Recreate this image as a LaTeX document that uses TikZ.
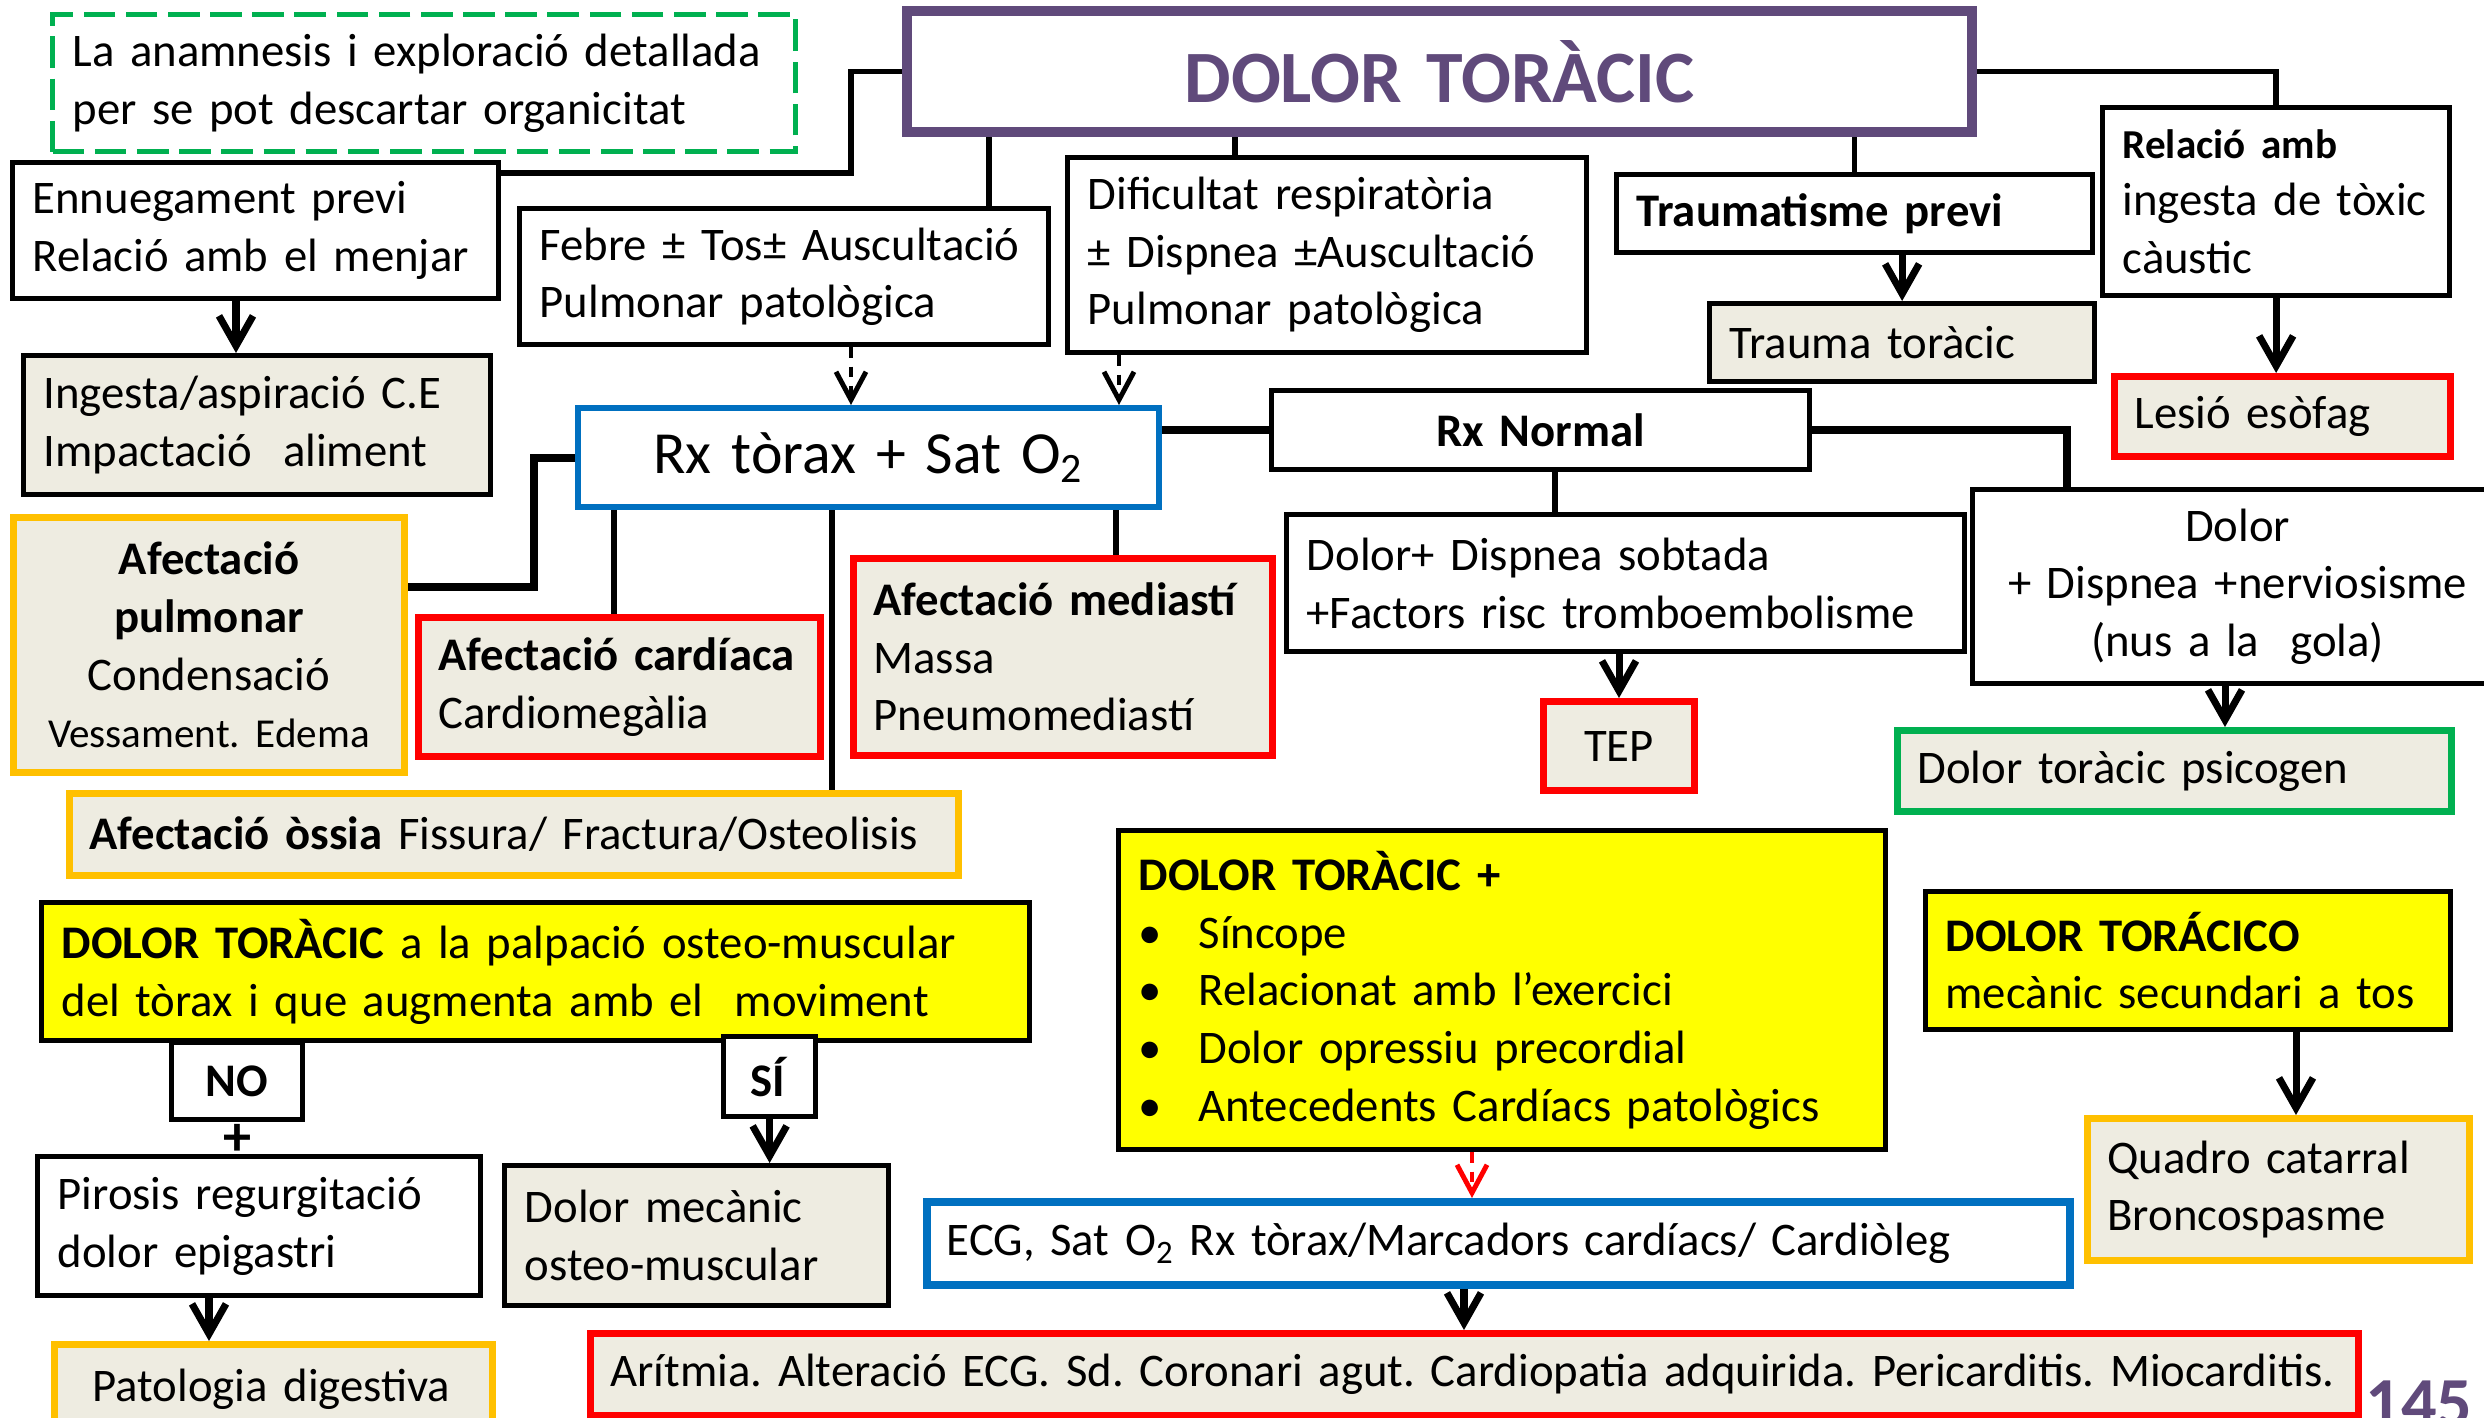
\documentclass[tikz,border=0pt]{standalone}
\usepackage{fontspec}
\setmainfont{Carlito}
\usetikzlibrary{arrows.meta}
\frenchspacing
\definecolor{beige}{HTML}{EEECE1}
\definecolor{ylw}{HTML}{FFFF00}
\definecolor{orng}{HTML}{FFC000}
\definecolor{rd}{HTML}{FF0000}
\definecolor{grn}{HTML}{00B050}
\definecolor{blu}{HTML}{0070C0}
\definecolor{purp}{HTML}{604A7B}
\newcommand\txtsz{\fontsize{13.3}{16.4}\selectfont}
\newcommand\smallsz{\fontsize{11.7}{16.4}\selectfont}
% box given by its corners (x1,y1)-(x2,y2), y measured downwards
\newcommand\mybox[7]{%
  \pgfmathsetmacro\myboxw{#5-#3}%
  \pgfmathsetmacro\myboxh{#6-#4}%
  \pgfmathsetmacro\myboxt{#5-#3-0.4}%
  \node[#1, anchor=north west, minimum width=\myboxw cm, minimum height=\myboxh cm,
        text width=\myboxt cm] (#2) at (#3,-#4) {#7};}
\newcommand\bul{\makebox[0.6cm][l]{•}}
\tikzset{
  base/.style={draw, line width=1.5pt, fill=white, inner xsep=0.2cm, inner ysep=0pt,
               align=left, font=\txtsz},
  plain/.style={base},
  tan/.style={base, fill=beige},
  redbox/.style={base, fill=beige, draw=rd, line width=2pt},
  orangebox/.style={base, fill=beige, draw=orng, line width=2pt},
  greenbox/.style={base, fill=beige, draw=grn, line width=2pt},
  bluebox/.style={base, draw=blu, line width=1.8pt},
  yellowbox/.style={base, fill=ylw},
  mid/.style={align=center},
  link/.style={line width=1.6pt},
  heavy/.style={line width=2.3pt},
  arr/.style={line width=2pt, -{Straight Barb[length=3mm,width=3.4mm]}},
  darr/.style={line width=1.4pt, dash pattern=on 3pt off 2.5pt,
               -{Straight Barb[length=2.8mm,width=3mm]}},
}
\begin{document}
\begin{tikzpicture}
\clip (0,0) rectangle (24.84,-14.18);
\fill[white] (0,0) rectangle (24.84,-14.18);

% ---- top row ----
\mybox{base, draw=grn, dash pattern=on 9pt off 3pt}{anam}{0.50}{0.12}{7.93}{1.49}{La anamnesis i exploració detallada\\per se pot descartar organicitat}
\mybox{plain}{enn}{0.10}{1.60}{4.96}{2.96}{Ennuegament previ\\Relació amb el menjar}
\mybox{tan}{ingesta}{0.21}{3.53}{4.88}{4.92}{Ingesta/aspiració C.E\\Impactació~ aliment}
\mybox{base, mid, draw=purp, line width=2.9pt, font=\fontsize{21}{24}\selectfont\bfseries\color{purp}}{title}{9.02}{0.06}{19.67}{1.27}{DOLOR TORÀCIC}
\mybox{plain}{febre}{5.17}{2.06}{10.46}{3.42}{Febre ± Tos± Auscultació\\Pulmonar patològica}
\mybox{plain}{dific}{10.65}{1.55}{15.84}{3.50}{Dificultat respiratòria\\± Dispnea ±Auscultació\\Pulmonar patològica}
\mybox{plain}{traum}{16.14}{1.72}{20.90}{2.50}{\textbf{Traumatisme previ}}
\mybox{tan}{trauma}{17.07}{3.01}{20.92}{3.79}{Trauma toràcic}
\mybox{plain}{relacio}{21.00}{1.05}{24.47}{2.93}{{\smallsz\bfseries Relació amb}\\ingesta de tòxic\\càustic}
\mybox{redbox}{lesio}{21.11}{3.73}{24.47}{4.53}{Lesió esòfag}

% ---- radiography row ----
\mybox{bluebox, mid, font=\fontsize{17}{20}\selectfont}{rx}{5.75}{4.05}{11.56}{5.04}{Rx tòrax + Sat O\textsubscript{2}}
\mybox{plain, mid}{rxnormal}{12.69}{3.88}{18.07}{4.67}{\textbf{Rx Normal}}
\mybox{orangebox, mid}{pulmonar}{0.10}{5.14}{4.01}{7.69}{\textbf{Afectació}\\\textbf{pulmonar}\\Condensació\\{\smallsz Vessament. Edema}}
\mybox{redbox}{cardiaca}{4.15}{6.14}{8.17}{7.53}{\textbf{Afectació~cardíaca}\\Cardiomegàlia}
\mybox{redbox}{mediasti}{8.50}{5.55}{12.69}{7.52}{\textbf{Afectació~mediastí}\\Massa\\Pneumomediastí}
\mybox{orangebox}{ossia}{0.66}{7.90}{9.55}{8.72}{\textbf{Afectació òssia} Fissura/ Fractura/Osteolisis}
\mybox{plain}{sobtada}{12.84}{5.12}{19.62}{6.49}{Dolor+ Dispnea sobtada\\+Factors risc tromboembolisme}
\mybox{plain, mid}{nervios}{19.70}{4.87}{25.00}{6.81}{Dolor\\+ Dispnea +nerviosisme\\(nus a la~ gola)}
\mybox{redbox, mid}{tep}{15.40}{6.98}{16.91}{7.87}{TEP}
\mybox{greenbox}{psicogen}{18.94}{7.27}{24.48}{8.08}{Dolor toràcic psicogen}

% ---- lower part ----
\mybox{yellowbox}{palpacio}{0.39}{9.00}{10.27}{10.38}{\textbf{DOLOR TORÀCIC} a la palpació osteo-muscular\\del tòrax i que augmenta amb el~ moviment}
\mybox{plain, mid}{no}{1.69}{10.40}{3.00}{11.17}{\textbf{NO}}
\mybox{plain, mid}{si}{7.21}{10.34}{8.13}{11.14}{\textbf{SÍ}}
\node[font=\fontsize{16}{16}\selectfont\bfseries, inner sep=0pt] (plus) at (2.38,-11.40) {+};
\mybox{plain}{pirosis}{0.35}{11.54}{4.78}{12.93}{Pirosis regurgitació\\dolor epigastri}
\mybox{orangebox}{patologia}{0.51}{13.41}{4.89}{14.30}{\hspace{0.18cm}Patologia digestiva}
\mybox{tan}{mecanic}{5.02}{11.63}{8.86}{13.03}{Dolor mecànic\\osteo-muscular}
\mybox{yellowbox}{dolorplus}{11.16}{8.28}{18.83}{11.47}{\textbf{DOLOR TORÀCIC +}\\
  \bul Síncope\\
  \bul Relacionat amb l’exercici\\
  \bul Dolor opressiu precordial\\
  \bul Antecedents Cardíacs patològics}
\mybox{yellowbox}{toracico}{19.23}{8.89}{24.48}{10.27}{\textbf{DOLOR TORÁCICO}\\mecànic secundari a tos}
\mybox{orangebox}{quadro}{20.84}{11.15}{24.66}{12.57}{Quadro catarral\\Broncospasme}
\mybox{bluebox, line width=2.2pt}{ecg}{9.23}{11.98}{20.66}{12.81}{ECG, Sat O\textsubscript{2} Rx tòrax/Marcadors cardíacs/ Cardiòleg}
\mybox{redbox}{aritmia}{5.87}{13.30}{23.55}{14.12}{Arítmia. Alteració ECG. Sd. Coronari agut. Cardiopatia adquirida. Pericarditis. Miocarditis.}
\node[anchor=base west, inner sep=0pt, font=\fontsize{20}{20}\selectfont\bfseries\color{purp}] (page) at (23.65,-14.26) {145};

% ---- connectors ----
\coordinate (k1) at (8.51,-1.73);
\coordinate (k2) at (5.34,-5.87);
\coordinate (k3) at (20.67,0);
\draw[link] (title.west) -| (k1) -- (k1 -| enn.east);
\draw[link] (title.south -| 9.89,0) -- (febre.north -| 9.89,0);
\draw[link] (title.south -| 12.35,0) -- (dific.north -| 12.35,0);
\draw[link] (title.south -| traum.north) -- (traum.north);
\draw[link] (title.east) -| (relacio.north);
\draw[arr] (enn.south -| 2.36,0) -- (ingesta.north -| 2.36,0);
\draw[arr] (traum.south -| trauma.north) -- (trauma.north);
\draw[arr] (relacio.south) -- (relacio.south |- lesio.north);
\draw[darr] (febre.south -| 8.51,0) -- (rx.north -| 8.51,0);
\draw[darr] (dific.south -| 11.19,0) -- (rx.north -| 11.19,0);
\draw[heavy] (rx.west) -| (k2) -- (k2 -| pulmonar.east);
\draw[link] (rx.south -| 6.14,0) -- (cardiaca.north -| 6.14,0);
\draw[link] (rx.south -| 8.32,0) -- (ossia.north -| 8.32,0);
\draw[link] (rx.south -| 11.16,0) -- (mediasti.north -| 11.16,0);
\draw[heavy] (rxnormal.west) -- (rxnormal.west -| rx.east);
\draw[heavy] (rxnormal.east) -| (nervios.north -| k3);
\draw[link] (rxnormal.south -| 15.55,0) -- (sobtada.north -| 15.55,0);
\draw[arr] (sobtada.south -| tep.north) -- (tep.north);
\draw[arr] (nervios.south -| 22.25,0) -- (psicogen.north -| 22.25,0);
\draw[arr] (si.south) -- (si.south |- mecanic.north);
\draw[arr] (pirosis.south -| 2.09,0) -- (patologia.north -| 2.09,0);
\draw[darr, draw=rd] (dolorplus.south -| 14.72,0) -- (ecg.north -| 14.72,0);
\draw[arr] (ecg.south -| 14.64,0) -- (aritmia.north -| 14.64,0);
\draw[arr] (toracico.south -| 22.96,0) -- (quadro.north -| 22.96,0);
\end{tikzpicture}
\end{document}
